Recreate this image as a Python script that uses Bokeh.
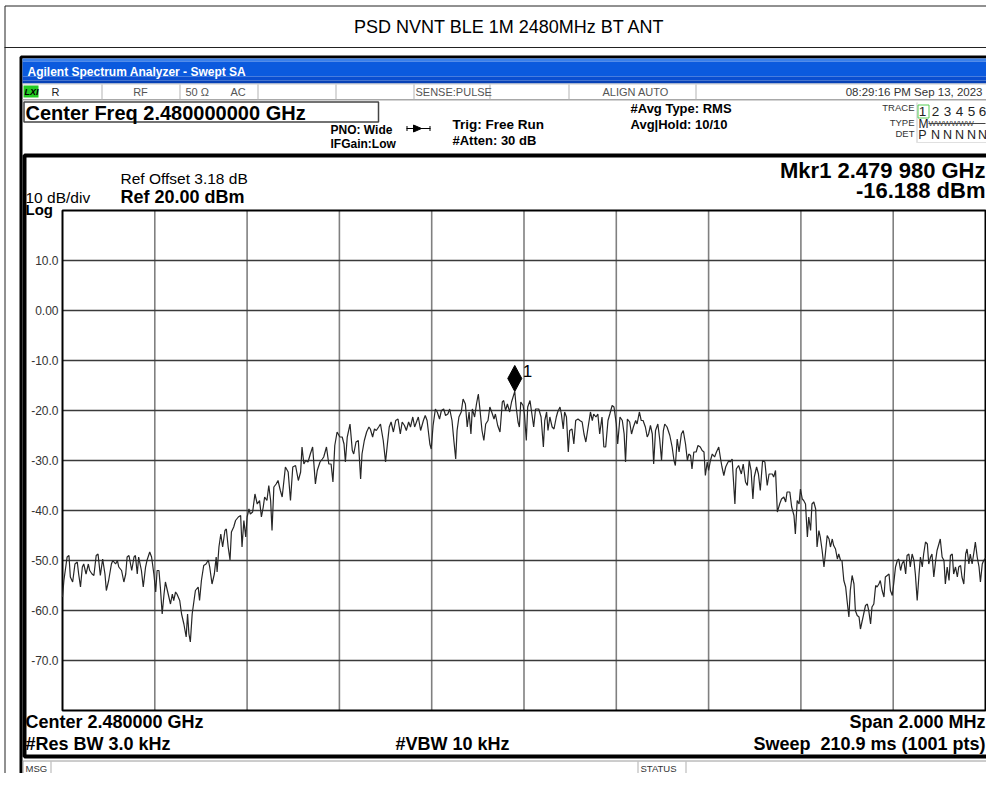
from bokeh.plotting import figure
from bokeh.models import Range1d
from bokeh.embed import file_html
from bokeh.resources import INLINE
from bokeh.core.properties import value

# ---------------- data ----------------
center_mhz = 2480.0
span_mhz = 2.0
ref_level_dbm = 20.0
bottom_level_dbm = -80.0

freq_offset_khz = [
    -1000, -997, -990, -986, -983, -978, -973, -968, -965, -961, -957, -954, -949, -944, -941, -936,
    -932, -927, -923, -918, -913, -908, -905, -900, -894, -891, -885, -881, -878, -872, -867, -863,
    -860, -856, -850, -845, -842, -838, -835, -829, -825, -820, -817, -811, -807, -802, -798, -795,
    -791, -788, -784, -780, -777, -771, -766, -762, -759, -755, -752, -746, -742, -737, -732, -729,
    -726, -723, -719, -715, -712, -706, -703, -699, -694, -689, -684, -681, -676, -671, -667, -665,
    -661, -657, -653, -648, -645, -641, -637, -634, -629, -625, -619, -614, -611, -607, -603, -600,
    -596, -593, -588, -583, -578, -573, -569, -565, -562, -557, -553, -549, -546, -542, -537, -533,
    -528, -524, -517, -511, -506, -501, -495, -489, -484, -481, -477,
    -473, -468, -463, -458, -452, -448, -442, -437, -434, -428, -423, -418, -414, -410, -405, -399,
    -394, -390, -387, -383, -377, -372, -369, -364, -359, -354, -351, -346, -341, -336, -333, -328,
    -324, -320, -315, -311, -305, -300, -296, -292, -288, -283, -278, -273, -268, -264, -259, -255,
    -250, -246, -241, -237, -233, -229, -224, -218, -214, -210, -204, -201, -197, -192, -188, -183,
    -179, -174, -170, -165, -161, -156, -152, -148, -145, -141, -136, -132, -127, -123, -119, -115,
    -112, -107, -103, -99, -96, -91, -87, -83, -78, -74, -70, -65, -62, -57, -52, -47,
    -44, -40, -36, -31, -27, -20, -17, -13, -10, -7, -2, 1, 5, 8, 13, 18,
    21, 25, 32,
    37, 42, 45, 49, 52, 56, 61, 65, 70, 73, 78, 81, 85, 88, 92, 96,
    99, 104, 108, 112, 117, 121, 126, 130, 134, 139, 144, 148, 151, 156, 160, 164,
    169, 173, 177, 182, 186, 191, 195, 200, 203, 208, 213, 217, 220, 224, 229, 233,
    237, 242, 245, 250, 254, 258, 263, 267, 270, 274, 278, 281, 285, 290, 294, 298,
    302, 305, 310, 316, 321, 325, 328, 332, 336, 341, 345, 350, 354, 357, 361, 364,
    368, 373, 377, 382, 386, 390, 393, 397, 400, 404, 408, 413, 417, 422, 426, 429,
    433, 437, 440, 444, 447, 451, 457, 460, 465, 471, 475, 480, 484, 488, 492, 496,
    499, 504, 508, 512, 517, 522, 527, 531,
    538, 541, 545, 549, 554, 558, 563, 567, 570, 576, 580, 585, 588, 592, 596, 599,
    603, 606, 610, 614, 617, 621, 624, 628, 632, 635, 639, 642, 646, 650, 653, 657,
    661, 664, 668, 671, 675, 679, 682, 686, 689, 693, 697, 700, 704, 707, 711, 715,
    718, 722, 726, 729, 733, 736, 740, 744, 747, 751, 754, 758, 762, 765, 769, 772,
    776, 780, 783, 787, 791, 794, 798, 801, 805, 809, 812, 816, 819, 823, 827, 830,
    834, 837, 841, 845, 848, 852, 856, 859, 863, 866, 870, 874, 877, 881, 884, 888,
    892, 895, 899, 902, 906, 910, 913, 917, 921, 924, 928, 931, 935, 939, 942, 946,
    949, 953, 957, 960, 964, 967, 971, 975, 978, 982, 986, 989, 993, 996, 1000,
]

level_dbm = [
    -57.3, -54.0, -49.3, -49.0, -53.3, -54.3, -50.7, -50.3, -52.7, -55.3, -51.3, -50.7, -52.7, -50.7, -52.0, -52.7,
    -53.0, -49.0, -48.7, -53.0, -49.7, -52.7, -56.0, -54.0, -50.7, -50.0, -50.7, -50.0, -51.3, -52.0, -54.3, -52.7,
    -49.3, -49.0, -52.0, -49.3, -49.0, -52.7, -49.3, -52.0, -55.3, -51.3, -50.0, -48.3, -49.3, -52.7, -56.3, -52.0,
    -52.0, -55.3, -60.7, -56.7, -54.3, -56.7, -58.7, -56.7, -58.0, -56.3, -56.7, -58.0, -60.7, -62.7, -65.3, -60.7,
    -64.7, -66.3, -60.7, -58.0, -56.0, -55.3, -58.0, -54.0, -51.0, -50.7, -49.9, -51.3, -54.7, -52.7, -49.3, -52.3,
    -47.3, -44.7, -47.3, -44.0, -43.7, -47.3, -49.9, -44.3, -43.3, -42.0, -41.3, -41.0, -47.3, -42.0, -45.3, -41.3,
    -39.7, -40.7, -40.3, -36.7, -38.7, -38.0, -41.3, -39.3, -37.3, -38.0, -35.0, -38.0, -44.0, -35.3, -34.7, -34.0,
    -36.0, -37.3, -31.3, -32.3, -38.0, -31.3, -31.0, -34.0, -32.3, -27.3, -30.7,
    -30.0, -30.3, -28.7, -27.3, -34.7, -32.0, -30.3, -29.7, -29.3, -27.3, -30.7, -30.7, -34.3, -27.0, -24.3, -25.3,
    -25.3, -26.7, -30.3, -25.3, -22.7, -28.0, -28.7, -26.3, -26.0, -33.7, -28.7, -26.0, -24.3, -23.3, -23.7, -25.3,
    -23.7, -24.0, -23.3, -22.7, -26.0, -30.3, -26.7, -23.3, -22.3, -24.3, -22.0, -21.7, -24.7, -22.3, -23.0, -24.0,
    -22.3, -23.3, -21.3, -23.3, -22.3, -21.3, -24.0, -22.0, -21.0, -22.0, -26.7, -27.7, -23.0, -19.7, -20.3, -21.7,
    -20.0, -19.7, -21.0, -20.7, -19.7, -22.0, -26.0, -29.7, -24.0, -21.3, -20.3, -17.7, -18.7, -23.3, -20.3, -24.7,
    -19.7, -21.3, -18.7, -16.7, -19.3, -24.0, -26.0, -22.7, -22.0, -19.3, -20.3, -21.7, -20.7, -23.0, -24.3, -18.3,
    -18.0, -20.0, -18.7, -20.3, -18.3, -16.188, -19.3, -22.3, -23.3, -18.3, -19.0, -20.7, -26.0, -19.3, -18.0, -21.3,
    -23.3, -19.7, -19.7,
    -21.3, -27.3, -22.0, -20.3, -24.0, -21.3, -23.3, -23.7, -21.3, -20.3, -19.3, -20.7, -23.7, -20.3, -21.3, -28.3,
    -24.0, -23.7, -26.7, -22.0, -21.7, -22.0, -22.3, -24.7, -26.3, -23.3, -20.3, -22.0, -20.7, -21.3, -20.7, -24.7,
    -21.3, -27.3, -27.3, -22.0, -20.7, -19.0, -19.3, -22.7, -26.7, -21.3, -22.0, -24.7, -30.3, -21.7, -22.3, -24.7,
    -23.3, -22.0, -22.7, -20.3, -22.0, -22.0, -23.3, -25.3, -24.7, -23.0, -24.7, -30.7, -24.0, -22.7, -25.7, -30.0,
    -24.0, -22.7, -23.3, -25.0, -27.3, -30.0, -31.0, -25.7, -28.3, -24.7, -24.0, -26.7, -30.0, -28.7, -29.0, -31.7,
    -28.3, -28.3, -27.0, -27.3, -28.0, -28.3, -33.0, -30.3, -32.0, -30.0, -28.7, -29.3, -28.3, -27.3, -29.7, -31.3,
    -33.0, -31.3, -30.7, -30.0, -30.3, -29.7, -38.7, -31.7, -31.0, -32.7, -30.7, -34.3, -35.0, -30.0, -32.0, -37.7,
    -33.3, -31.3, -32.7, -36.0, -30.0, -30.3, -35.0, -32.7,
    -32.7, -33.3, -32.0, -40.3, -38.7, -37.7, -37.3, -38.3, -36.3, -36.3, -39.3, -41.0, -44.7, -38.0, -38.7, -35.7,
    -37.7, -38.0, -38.7, -45.3, -41.3, -44.0, -38.7, -38.3, -39.7, -47.3, -44.0, -45.3, -48.0, -51.3, -48.7, -45.0,
    -45.7, -47.3, -45.7, -47.0, -47.7, -49.7, -48.7, -50.0, -50.0, -54.0, -55.3, -58.0, -61.3, -56.0, -53.0, -54.7,
    -60.0, -61.0, -61.3, -63.7, -62.0, -60.7, -59.0, -58.7, -60.0, -62.7, -59.3, -58.7, -55.0, -55.3, -54.7, -54.0,
    -56.0, -57.3, -53.3, -53.0, -52.7, -56.0, -57.0, -54.7, -51.3, -50.0, -49.7, -52.0, -50.7, -50.0, -52.7, -49.0,
    -48.7, -51.3, -48.7, -50.0, -52.7, -58.0, -52.7, -49.3, -51.3, -48.7, -46.3, -46.7, -50.7, -49.3, -48.7, -53.3,
    -50.0, -48.0, -46.7, -45.7, -49.3, -50.0, -54.7, -51.3, -54.0, -49.0, -48.7, -52.7, -51.3, -53.3, -51.3, -51.0,
    -53.3, -54.7, -48.7, -47.7, -50.7, -48.7, -50.7, -48.3, -46.3, -49.3, -51.3, -54.3, -50.7, -50.0, -49.5,
]

marker_freq_mhz = 2479.980
marker_level_dbm = -16.188

y_tick_values = [10, 0, -10, -20, -30, -40, -50, -60, -70]
y_tick_labels = ["10.0", "0.00", "-10.0", "-20.0", "-30.0", "-40.0", "-50.0", "-60.0", "-70.0"]
x_grid_values = [2479.2, 2479.4, 2479.6, 2479.8, 2480.0, 2480.2, 2480.4, 2480.6, 2480.8]

trace_numbers = ["1", "2", "3", "4", "5", "6"]
trace_detectors = ["P", "N", "N", "N", "N", "N"]

freq_mhz = [center_mhz + k / 1000.0 for k in freq_offset_khz]

# ---------------- scale: grid box placed in canvas pixels ----------------
W, H = 986, 773
GL, GR, GT, GB = 62, 985, 210, 710          # grid box, canvas pixels
f_start = center_mhz - span_mhz / 2
f_end = center_mhz + span_mhz / 2
MHZ_PER_PX = span_mhz / (GR - GL)
DB_PER_PX = (ref_level_dbm - bottom_level_dbm) / (GB - GT)


def X(px):
    return f_start + (px - GL) * MHZ_PER_PX


def Y(py):
    return ref_level_dbm - (py - GT) * DB_PER_PX


FONT = "Liberation Sans"

p = figure(width=W, height=H, output_backend="svg", toolbar_location=None, title=None,
           x_range=Range1d(X(0), X(W)), y_range=Range1d(Y(H), Y(0)),
           x_axis_location=None, y_axis_location=None, min_border=0)
p.background_fill_color = "white"
p.border_fill_color = "white"
p.outline_line_color = None
p.xgrid.visible = False
p.ygrid.visible = False


def fill_box(x0, y0, x1, y1, color):
    p.quad(left=[X(x0)], right=[X(x1)], top=[Y(y0)], bottom=[Y(y1)],
           fill_color=color, line_color=None)


def line_box(x0, y0, x1, y1, color, w):
    p.quad(left=[X(x0)], right=[X(x1)], top=[Y(y0)], bottom=[Y(y1)],
           fill_color=None, line_color=color, line_width=w)


def label(px, py, text, size, bold=False, color="black", align="left", baseline="middle",
          italic=False):
    style = "bold" if bold else "normal"
    if italic:
        style = "bold italic" if bold else "italic"
    p.text(x=[X(px)], y=[Y(py)], text=[text], text_font=value(FONT),
           text_font_size=f"{size}px", text_font_style=style, text_color=color,
           text_align=align, text_baseline=baseline)


# page title box
line_box(4.5, 5.5, 1000, 800, "#222222", 1)
fill_box(4, 46.5, 1000, 47.5, "#222222")
label(509, 26, "PSD NVNT BLE 1M 2480MHz BT ANT", 18, align="center")

# analyser window border
line_box(20.5, 56.5, 994.5, 788.5, "black", 3)

# title bar (blue, banded)
fill_box(22, 58, 993, 61, "#3b80ea")
fill_box(22, 61, 993, 76, "#0b5ade")
fill_box(22, 76, 993, 80, "#0a4ed0")
fill_box(22, 80, 993, 83, "#0842b6")
label(27, 71, "Agilent Spectrum Analyzer - Swept SA", 12, bold=True, color="white")

# status row
fill_box(22, 83, 993, 84, "#c8c8c8")
fill_box(22, 98.5, 993, 100, "#a8a8a8")
for sx in [101, 179, 257, 335, 413, 489, 568, 695]:
    fill_box(sx, 84, sx + 1, 99, "#b4b4b4")
fill_box(23, 85, 38, 97, "#22cc22")
label(24, 91, "LXI", 9, bold=True, italic=True)
label(51, 91, "R", 11, color="#222222")
label(140, 91, "RF", 11, color="#555555", align="center")
label(185, 91, "50 Ω", 11, color="#555555")
label(230, 91, "AC", 11, color="#555555")
label(415, 91, "SENSE:PULSE", 11, color="#555555")
label(602, 91, "ALIGN AUTO", 11, color="#555555")
label(982, 91, "08:29:16 PM Sep 13, 2023", 11.5, color="#333333", align="right")

# header
line_box(23.5, 101.5, 378, 121.5, "#444444", 1.5)
label(25, 112, "Center Freq 2.480000000 GHz", 20, bold=True)
label(330, 129, "PNO: Wide", 12, bold=True)
label(330, 143, "IFGain:Low", 12, bold=True)
fill_box(406, 127.5, 430, 128.5, "black")
fill_box(406, 125.5, 407, 130.5, "black")
fill_box(429, 125.5, 430, 130.5, "black")
p.patch([X(413), X(413), X(421)], [Y(124.5), Y(131.5), Y(128)], fill_color="black", line_color="black")
label(452, 124, "Trig: Free Run", 13.5, bold=True)
label(452, 140, "#Atten: 30 dB", 13, bold=True)
label(630, 108, "#Avg Type: RMS", 13, bold=True)
label(630, 124, "Avg|Hold: 10/10", 13, bold=True)

# trace table
fill_box(916, 102, 917, 142, "#c8c8c8")
fill_box(987, 102, 988, 142, "#e0e0e0")
fill_box(916, 141.5, 988, 142.5, "#e0e0e0")
line_box(917.5, 104.5, 928.5, 117.5, "#55cc55", 1)
label(914, 107, "TRACE", 9.5, color="#333333", align="right")
trace_x = [922, 935, 947, 959, 971, 982]
for tx, t in zip(trace_x, trace_numbers):
    label(tx, 111, t, 13.5, color="#222222", align="center")
label(914, 122, "TYPE", 9.5, color="#333333", align="right")
label(918, 123, "M", 12, color="#222222")
label(928, 123, "WWWWWW", 8, color="#444444")
fill_box(928, 122.5, 985, 123.5, "#444444")
label(914, 133, "DET", 9.5, color="#333333", align="right")
for tx, t in zip(trace_x, trace_detectors):
    label(tx, 134, t, 12.5, color="#222222", align="center")

# display area
line_box(24, 155, 991, 756, "black", 4)
label(120, 178, "Ref Offset 3.18 dB", 15.5)
label(120, 196, "Ref 20.00 dBm", 18, bold=True)
label(25, 197, "10 dB/div", 15.5)
label(25, 209, "Log", 15, bold=True)
label(985, 170, "Mkr1 2.479 980 GHz", 22, bold=True, align="right")
label(985, 190, "-16.188 dBm", 22, bold=True, align="right")

label(25, 721, "Center 2.480000 GHz", 18, bold=True)
label(25, 743, "#Res BW 3.0 kHz", 18, bold=True)
label(395, 743, "#VBW 10 kHz", 18, bold=True)
label(985, 721, "Span 2.000 MHz", 18, bold=True, align="right")
label(985, 743, "Sweep\u00a0\u00a0210.9 ms (1001 pts)", 18, bold=True, align="right")

# message bar
line_box(22.5, 760.5, 992.5, 786.5, "#9a9a9a", 1)
for sx in [50, 637, 685]:
    fill_box(sx, 761, sx + 1, 786, "#b0b0b0")
label(25, 768, "MSG", 9.5, color="#333333")
label(640, 768, "STATUS", 9.5, color="#333333")

# ---------------- spectrum grid, ticks, trace, marker ----------------
p.segment(x0=x_grid_values, x1=x_grid_values,
          y0=[bottom_level_dbm] * len(x_grid_values), y1=[ref_level_dbm] * len(x_grid_values),
          line_color="#808080", line_width=1.6)
p.segment(x0=[f_start] * len(y_tick_values), x1=[f_end] * len(y_tick_values),
          y0=y_tick_values, y1=y_tick_values, line_color="#3a3a3a", line_width=1.4)
p.quad(left=[f_start], right=[f_end], top=[ref_level_dbm], bottom=[bottom_level_dbm],
       fill_color=None, line_color="black", line_width=2)
p.text(x=[X(58)] * len(y_tick_values), y=y_tick_values, text=y_tick_labels,
       text_font=value(FONT), text_font_size="12px", text_color="#333333",
       text_align="right", text_baseline="middle")

p.line(freq_mhz, level_dbm, line_color="#262626", line_width=1.2)

dx = 0.0152
dh = 5.2
p.patch([marker_freq_mhz - dx, marker_freq_mhz, marker_freq_mhz + dx, marker_freq_mhz],
        [marker_level_dbm + dh / 2, marker_level_dbm + dh, marker_level_dbm + dh / 2, marker_level_dbm],
        fill_color="black", line_color="black", line_width=1)
p.text([marker_freq_mhz], [marker_level_dbm], text=["1"], x_offset=8, y_offset=-20,
       text_font=value(FONT), text_font_size="17px", text_color="black",
       text_baseline="alphabetic", text_align="left")

open("out.html", "w").write(file_html(p, INLINE))
